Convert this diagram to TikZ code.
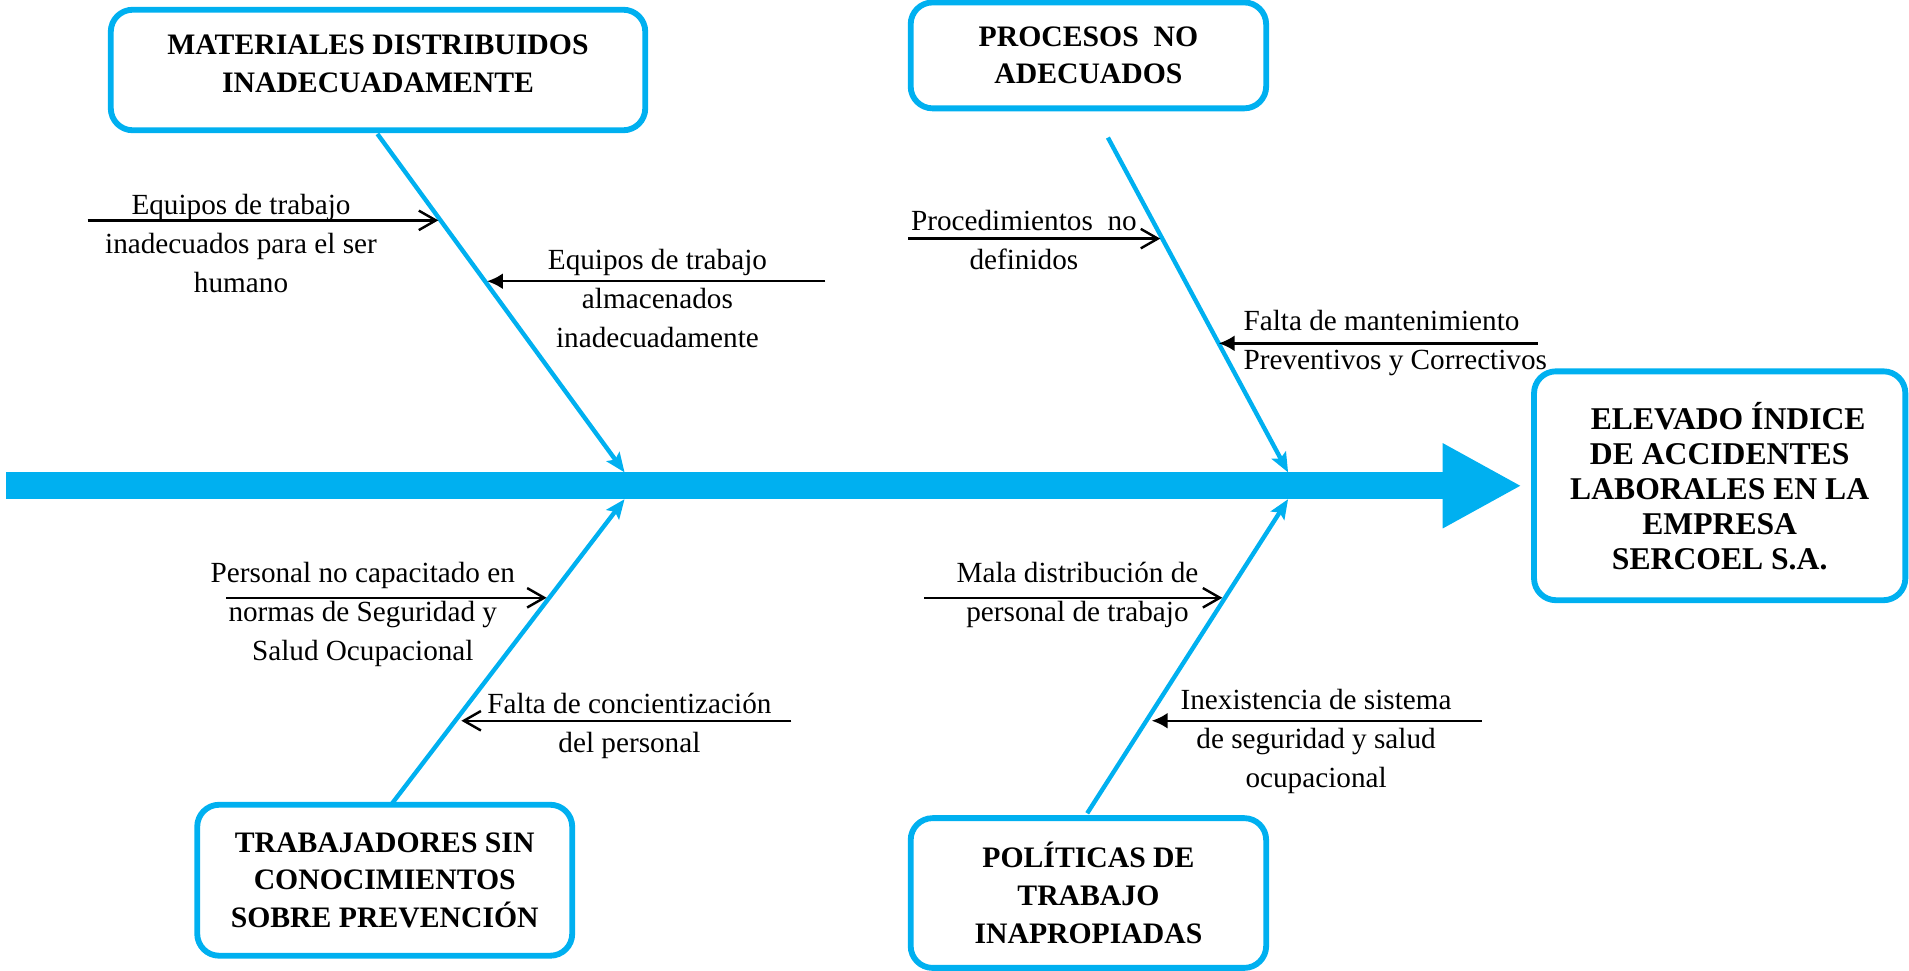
\documentclass[tikz,border=0pt]{standalone}
\usepackage{fontspec}
\setmainfont{Liberation Serif}
\usetikzlibrary{arrows.meta}
\definecolor{fishblue}{HTML}{00B0F0}
\begin{document}
\begin{tikzpicture}[x=0.5pt,y=-0.5pt,
  causebox/.style={draw=fishblue, line width=2.4pt, rounded corners=9pt, fill=white,
    font=\bfseries\fontsize{12.2}{15.5}\selectfont, align=center, inner sep=0pt},
  bone/.style={draw=fishblue, line width=1.8pt, -{Stealth[length=8pt,width=6.5pt,inset=1.5pt]}},
  subopen/.style={draw=black, line width=1pt, -{Straight Barb[length=7pt,width=8pt]}},
  subfill/.style={draw=black, line width=1pt, -{Latex[length=6.5pt,width=6.5pt]}},
  lbl/.style={font=\fontsize{12}{16}\selectfont, align=center, inner sep=0pt}
]
\useasboundingbox (0,0) rectangle (1568,797);

% spine
\coordinate (sp0) at (5,399);
\coordinate (sp1) at (1250,399);
\draw[draw=fishblue, line width=11pt, -{Triangle[length=32.5pt,width=32.5pt]}] (sp0) -- (sp1);

% boxes
\node[causebox, minimum width=219.5pt, minimum height=49.5pt] (mat) at (310.5,57.5)
  {MATERIALES DISTRIBUIDOS\\INADECUADAMENTE\\[-10.5pt]};
\node[causebox, minimum width=146pt, minimum height=43.5pt] (proc) at (894,45.5)
  {PROCESOS\ \ NO\\ADECUADOS};
\node[causebox, minimum width=152.5pt, minimum height=94pt, font=\bfseries\fontsize{13}{14.4}\selectfont] (efecto) at (1412.5,399)
  {\hspace*{7pt}ELEVADO ÍNDICE\\DE ACCIDENTES\\LABORALES EN LA\\EMPRESA\\SERCOEL S.A.};
\node[causebox, minimum width=154pt, minimum height=62pt] (trab) at (316,723)
  {TRABAJADORES SIN\\CONOCIMIENTOS\\SOBRE PREVENCIÓN};
\node[causebox, minimum width=146pt, minimum height=61.5pt] (pol) at (894,733.5)
  {POLÍTICAS DE\\TRABAJO\\INAPROPIADAS};

% bones
\coordinate (b1s) at (310,110);  \coordinate (b1e) at (513,388);
\coordinate (b2s) at (910,113);  \coordinate (b2e) at (1058,388);
\coordinate (b3s) at (322,660);  \coordinate (b3e) at (513,410);
\coordinate (b4s) at (893,668);  \coordinate (b4e) at (1058,410);
\draw[bone] (b1s) -- (b1e);
\draw[bone] (b2s) -- (b2e);
\draw[bone] (b3s) -- (b3e);
\draw[bone] (b4s) -- (b4e);

% sub-causes
\coordinate (c1s) at (72,181);   \coordinate (c1e) at (360,181);
\coordinate (c2s) at (678,231);  \coordinate (c2e) at (400,231);
\coordinate (c3s) at (746,196);  \coordinate (c3e) at (953,196);
\coordinate (c4s) at (1263,282); \coordinate (c4e) at (1001,282);
\coordinate (c5s) at (186,491);  \coordinate (c5e) at (449,491);
\coordinate (c6s) at (650,592);  \coordinate (c6e) at (379,592);
\coordinate (c7s) at (759,491);  \coordinate (c7e) at (1004,491);
\coordinate (c8s) at (1217,592); \coordinate (c8e) at (946,592);
\draw[subopen] (c1s) -- (c1e);
\draw[subfill] (c2s) -- (c2e);
\draw[subopen] (c3s) -- (c3e);
\draw[subfill] (c4s) -- (c4e);
\draw[subopen] (c5s) -- (c5e);
\draw[subopen] (c6s) -- (c6e);
\draw[subopen] (c7s) -- (c7e);
\draw[subfill] (c8s) -- (c8e);

% labels
\node[lbl] (t1) at (198,200) {Equipos de trabajo\\inadecuados para el ser\\humano};
\node[lbl] (t2) at (540,245) {Equipos de trabajo\\almacenados\\inadecuadamente};
\node[lbl] (t3) at (841,197) {Procedimientos\ \ no\\definidos};
\node[lbl, align=left, anchor=west] (t4) at (1021,282) {Falta de mantenimiento\\Preventivos y Correctivos};
\node[lbl] (t5) at (298,505) {Personal no capacitado en\\normas de Seguridad y\\Salud Ocupacional};
\node[lbl] (t6) at (517,596) {Falta de concientización\\del personal};
\node[lbl] (t7) at (885,489) {Mala distribución de\\personal de trabajo};
\node[lbl] (t8) at (1081,609) {Inexistencia de sistema\\de seguridad y salud\\ocupacional};
\end{tikzpicture}
\end{document}
